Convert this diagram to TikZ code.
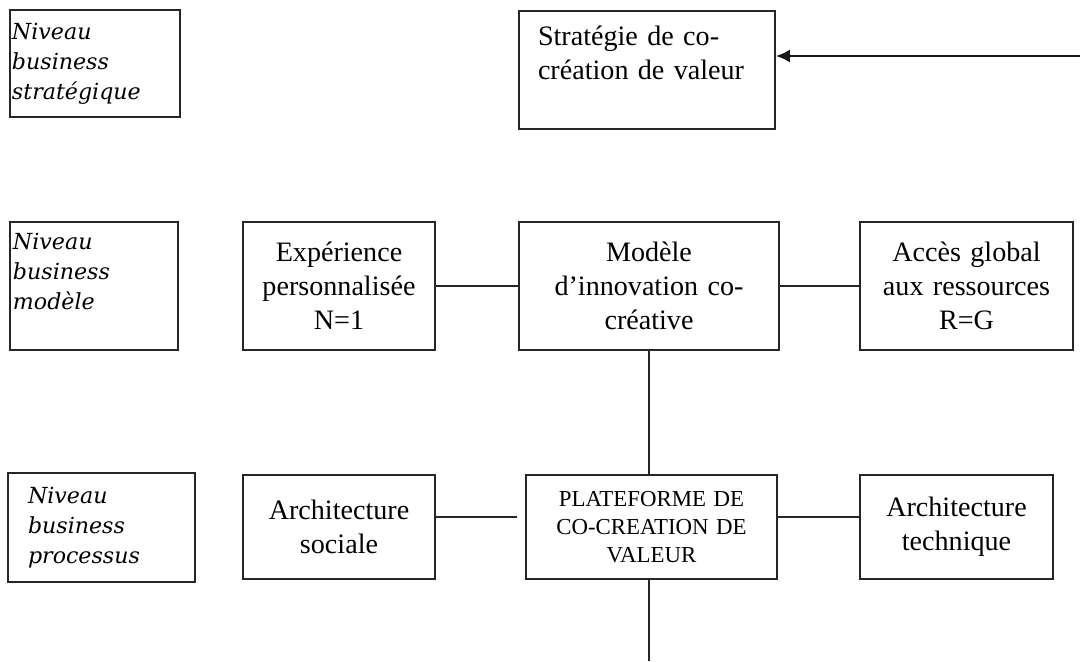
\documentclass[tikz,border=0pt]{standalone}
\usepackage{fontspec}
\setmainfont{Liberation Serif}
\newfontfamily\lvlfont{DejaVu Serif}
\usetikzlibrary{arrows.meta}

\begin{document}
\begin{tikzpicture}[
    lvl/.style={draw=black!85, line width=1.5pt, align=left, inner sep=0pt,
      font=\lvlfont\itshape\fontsize{12.6}{17}\selectfont},
    blk/.style={draw=black!85, line width=0.9pt, align=center, inner sep=0pt,
      font=\fontsize{16}{19.4}\selectfont},
    lnk/.style={black!85, line width=0.9pt}
  ]
  \useasboundingbox (0,0) rectangle (21.6,-13.22);
  % niveaux
  \node[lvl, minimum width=3.4cm, minimum height=2.14cm, text width=3.32cm] (lvlstrat) at (1.9,-1.27) {Niveau\\business\\stratégique};
  \node[lvl, minimum width=3.36cm, minimum height=2.56cm, text width=3.24cm] (lvlmod) at (1.88,-5.72) {Niveau\\business\\modèle\\ \mbox{}};
  \node[lvl, minimum width=3.74cm, minimum height=2.18cm, text width=2.94cm] (lvlproc) at (2.03,-10.55) {Niveau\\business\\processus};
  %
  \node[blk, align=left, minimum width=5.12cm, minimum height=2.36cm, text width=4.36cm] (strat) at (12.94,-1.4) {Stratégie de co-\\création de valeur\\ \mbox{}};
  %
  \node[blk, minimum width=3.84cm, minimum height=2.56cm, text width=3.6cm] (exp) at (6.78,-5.72) {Expérience\\personnalisée\\N=1};
  \node[blk, minimum width=5.2cm, minimum height=2.56cm, text width=4.8cm] (mod) at (12.98,-5.72) {Modèle\\d'innovation co-\\créative};
  \node[blk, minimum width=4.26cm, minimum height=2.56cm, text width=4cm] (acc) at (19.33,-5.72) {Accès global\\aux ressources\\R=G};
  %
  \node[blk, minimum width=3.84cm, minimum height=2.08cm, text width=3.6cm] (soc) at (6.78,-10.54) {Architecture\\sociale};
  \node[blk, minimum width=5.02cm, minimum height=2.08cm, text width=4.7cm, font=\fontsize{13}{16}\selectfont] (plat) at (13.03,-10.54) {PLATEFORME DE\\CO-CREATION DE\\VALEUR};
  \node[blk, minimum width=3.86cm, minimum height=2.08cm, text width=3.6cm] (tech) at (19.13,-10.54) {Architecture\\technique};
  %
  \coordinate (arrstart) at (21.6,-1.12);
  \coordinate (bottomend) at (13.0,-13.22);
  %
  \draw[->, >={Latex[length=2.8mm, width=2.6mm]}, black!90, line width=1.3pt] (arrstart) -- (strat.east |- arrstart);
  \draw[lnk] (exp.east) -- (mod.west);
  \draw[lnk] (mod.east) -- (acc.west);
  \draw[lnk] (mod.south) -- (plat.north -| mod.south);
  \draw[lnk, shorten >=0.16cm] ([yshift=0.2cm]soc.east) -- ([yshift=0.2cm]plat.west);
  \draw[lnk] ([yshift=0.2cm]plat.east) -- ([yshift=0.2cm]tech.west);
  \draw[lnk] (plat.south -| mod.south) -- (bottomend -| mod.south);
\end{tikzpicture}
\end{document}
